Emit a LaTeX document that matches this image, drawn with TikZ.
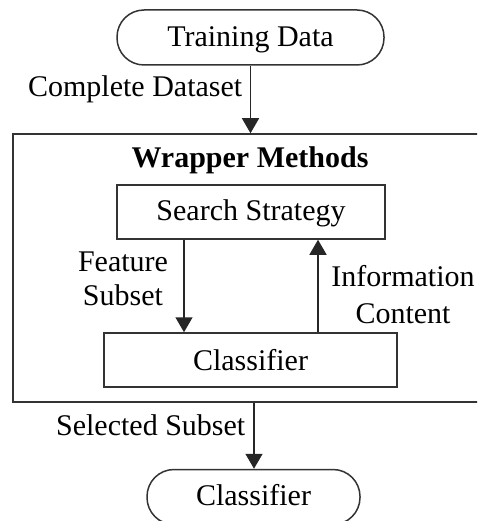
\documentclass[tikz,border=0pt]{standalone}
\usepackage{fontspec}
\setmainfont{Liberation Serif}
\usetikzlibrary{arrows.meta,calc}
\begin{document}
\begin{tikzpicture}[x=1pt,y=-1pt,
  line width=1.5pt,
  every node/.style={font=\fontsize{30}{36}\selectfont, inner sep=0pt},
  stadium/.style={draw=black!80, rounded corners=27pt, minimum height=55pt},
  stepbox/.style={draw=black!80, minimum height=54pt},
  frame/.style={draw=black!80},
  flow/.style={draw=black!85, -{Triangle[width=17pt,length=15pt]}},
  lbl/.style={anchor=base, align=center}]
\useasboundingbox (0,0) rectangle (477,521);
\clip (0,0) rectangle (477,521);

% outer wrapper frame (extends past the right edge)
\node[frame, minimum width=487pt, minimum height=268pt] (wrap) at (256.5,268) {};
\node[lbl, font=\fontsize{30}{36}\selectfont\bfseries] (wtitle) at (250,168) {Wrapper Methods};

% terminals
\node[stadium, minimum width=267pt] (td) at (250.5,37.5) {};
\node[lbl] (tdtext) at (250.5,47) {Training Data};
\node[stadium, minimum width=213pt] (out) at (253.5,497) {};
\node[lbl] (outtext) at (253.5,505) {Classifier};

% inner steps
\node[stepbox, minimum width=268pt] (ss) at (251,212) {};
\node[lbl] (sstext) at (251,220) {Search Strategy};
\node[stepbox, minimum width=293pt] (cl) at (250.5,360) {};
\node[lbl] (cltext) at (250.5,370) {Classifier};

% connectors
\draw[flow] (td.south) -- (td.south |- wrap.north);
\coordinate (fx) at (184,0);
\coordinate (ix) at (318,0);
\draw[flow] (ss.south -| fx) -- (cl.north -| fx);
\draw[flow] (cl.north -| ix) -- (ss.south -| ix);
\coordinate (sx) at (254,0);
\draw[flow] (wrap.south -| sx) -- (out.north -| sx);

% connector labels
\node[anchor=base east] (l1) at (243,97) {Complete Dataset};
\node[lbl] (l2a) at (123,271) {Feature};
\node[lbl] (l2b) at (123,305) {Subset};
\node[lbl] (l3a) at (403,286) {Information};
\node[lbl] (l3b) at (403,323) {Content};
\node[anchor=base east] (l4) at (246,435) {Selected Subset};
\end{tikzpicture}
\end{document}
